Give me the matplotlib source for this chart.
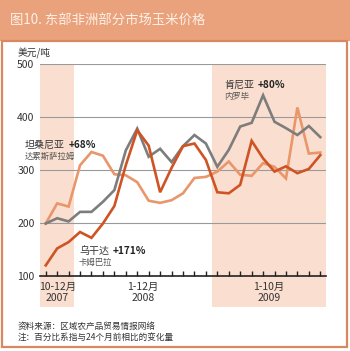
import matplotlib.pyplot as plt
import matplotlib.patches as patches
import numpy as np

plt.rcParams['font.family'] = ['Noto Sans CJK SC', 'DejaVu Sans']

# monthly maize prices, Oct 2007 - Oct 2009 (USD/ton)
months = np.arange(25)
kampala = [120, 152, 164, 183, 172, 199, 232, 309, 375, 346, 258, 304, 345,
           350, 319, 258, 256, 272, 355, 322, 297, 307, 294, 302, 328]
nairobi = [199, 209, 203, 221, 221, 240, 262, 337, 378, 325, 340, 315, 345,
           366, 350, 306, 338, 382, 389, 441, 391, 379, 366, 383, 362]
dar = [199, 237, 231, 309, 334, 327, 292, 290, 277, 242, 238, 243, 256,
       285, 287, 297, 316, 291, 289, 313, 306, 284, 418, 331, 333]

yticks = [100, 200, 300, 400, 500]
periods = [(-0.5, 2.5, '10-12月', '2007', True),
           (2.5, 14.5, '1-12月', '2008', False),
           (14.5, 24.5, '1-10月', '2009', True)]

c_dark = '#CF5424'
c_light = '#E9966B'
c_gray = '#7D7D7D'
c_shade = '#FADFD0'
c_title = '#E9A27C'
c_border = '#D8875F'

fig = plt.figure(figsize=(3.5, 3.51), dpi=100)
W, H = 350, 351

# title bar and frame
fig.patches.append(patches.Rectangle((0, 1 - 41 / H), 1, 41 / H, transform=fig.transFigure,
                                     facecolor=c_title, edgecolor='none', zorder=-2))
fig.patches.append(patches.Rectangle((2 / W, 4 / H), 345 / W, (H - 41 - 4) / H,
                                     transform=fig.transFigure, facecolor='white',
                                     edgecolor=c_border, lw=1.6, zorder=-2))
fig.text(10 / W, 1 - 20 / H, '图10. 东部非洲部分市场玉米价格', color='#FDF1E8',
         fontsize=9.6, va='center', ha='left')

ax = fig.add_axes([40 / W, 75 / H, 286 / W, 212 / H])
ax.set_xlim(-0.5, 24.5)
ax.set_ylim(100, 500)

for x0, x1, lab, yr, shade in periods:
    if shade:
        ax.axvspan(x0, x1, ymin=-0.146, ymax=1, color=c_shade, lw=0, clip_on=False, zorder=0)
    xc = (x0 + x1) / 2
    ax.text(xc, -0.05, lab, transform=ax.get_xaxis_transform(), ha='center', va='center',
            fontsize=7.5, color='#333333')
    ax.text(xc, -0.105, yr, transform=ax.get_xaxis_transform(), ha='center', va='center',
            fontsize=7.5, color='#333333')

for v in yticks[1:]:
    ax.axhline(v, color='#9A9A9A', lw=0.8, zorder=1)

ax.plot(months, dar, color=c_light, lw=1.9, zorder=3, solid_joinstyle='miter')
ax.plot(months, nairobi, color=c_gray, lw=1.9, zorder=4, solid_joinstyle='miter')
ax.plot(months, kampala, color=c_dark, lw=1.9, zorder=5, solid_joinstyle='miter')

for s in ['left', 'right', 'top']:
    ax.spines[s].set_visible(False)
ax.spines['bottom'].set_color('#222222')
ax.spines['bottom'].set_linewidth(1.2)
ax.spines['bottom'].set_zorder(6)
ax.set_xticks(months)
ax.set_xticklabels([])
ax.tick_params(axis='x', direction='in', length=3.5, width=1, color='#222222')
ax.set_yticks(yticks)
ax.set_yticklabels([str(v) for v in yticks], fontsize=7.5, color='#333333')
ax.tick_params(axis='y', length=0, pad=4)
ax.patch.set_alpha(0)

fig.text(18 / W, 1 - 53 / H, '美元/吨', fontsize=7, color='#333333', va='center')


# series labels: city + change, market name below
def series_label(px, py, name, pct, city):
    fig.text(px / W, 1 - py / H, name, fontsize=7.2, color='#333333', va='center')
    fig.text((px + 10 * len(name) + 4) / W, 1 - py / H, pct, fontsize=7.2,
             color='#222222', va='center', fontweight='bold')
    fig.text(px / W, 1 - (py + 11) / H, city, fontsize=6, color='#555555', va='center')


series_label(25, 145, '坦桑尼亚', '+68%', '达累斯萨拉姆')
series_label(224, 85, '肯尼亚', '+80%', '内罗毕')
series_label(79, 251, '乌干达', '+171%', '卡姆巴拉')

fig.text(18 / W, 1 - 326 / H, '资料来源：区域农产品贸易情报网络', fontsize=6.2, color='#333333', va='center')
fig.text(18 / W, 1 - 337 / H, '注：百分比系指与24个月前相比的变化量', fontsize=6.2, color='#333333', va='center')

fig.savefig('out.png', dpi=100)
